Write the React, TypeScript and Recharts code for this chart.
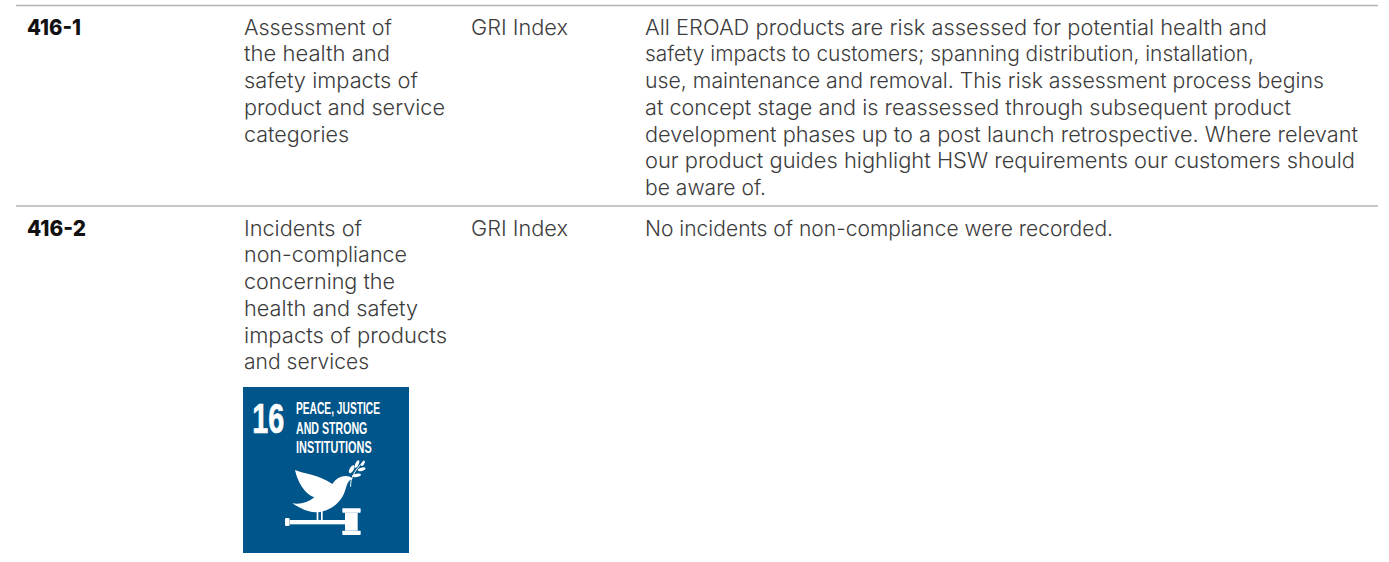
import { ScatterChart, Scatter, XAxis, YAxis, ReferenceLine, ReferenceArea } from "recharts";

const codes = ["416-1", "416-2"];
const codeEnds = [81, 86];
const source = ["GRI Index", "GRI Index"];
const sourceEnd = 568;
const topics = [
  ["Assessment of", "the health and", "safety impacts of", "product and service", "categories"],
  ["Incidents of", "non-compliance", "concerning the", "health and safety", "impacts of products", "and services"],
];
const topicEnds = [
  [392, 390, 418, 445, 349],
  [362, 407, 395, 418, 447, 369],
];
const notes = [
  [
    "All EROAD products are risk assessed for potential health and",
    "safety impacts to customers; spanning distribution, installation,",
    "use, maintenance and removal. This risk assessment process begins",
    "at concept stage and is reassessed through subsequent product",
    "development phases up to a post launch retrospective. Where relevant",
    "our product guides highlight HSW requirements our customers should",
    "be aware of.",
  ],
  ["No incidents of non-compliance were recorded."],
];
const noteEnds = [[1267, 1254, 1324, 1291, 1358, 1355, 766], [1113]];
const badgeTitle = ["PEACE, JUSTICE", "AND STRONG", "INSTITUTIONS"];
const badgeWidths = [252, 214, 227];

const W = 1389;
const H = 562;
const FONT = "Inter, 'Open Sans', sans-serif";
const NARROW = "'Liberation Sans Narrow', 'Liberation Sans'";
const TEXT = "#3c3c3c";
const RULE = "#b4b4b4";
const BLUE = "#00558a";
const rowBase = [34.5, 235.5];
const lineStep = 26.75;
const colX = [27, 244, 471, 645];

type Cell = { x: number; y: number; text: string; len: number; bold?: boolean };

const cells: Cell[] = [];
codes.forEach((text, row) => {
  cells.push({ x: colX[0], y: rowBase[row], text, len: codeEnds[row] - colX[0], bold: true });
  cells.push({ x: colX[2], y: rowBase[row], text: source[row], len: sourceEnd - colX[2] });
  topics[row].forEach((t, i) =>
    cells.push({ x: colX[1], y: rowBase[row] + i * lineStep, text: t, len: topicEnds[row][i] - colX[1] })
  );
  notes[row].forEach((t, i) =>
    cells.push({ x: colX[3], y: rowBase[row] + i * lineStep, text: t, len: noteEnds[row][i] - colX[3] })
  );
});

function CellText(props: any) {
  const { cx, cy, payload } = props;
  return (
    <text
      x={cx}
      y={cy}
      fontFamily={FONT}
      fontSize={21.5}
      fontWeight={payload.bold ? 800 : 300}
      fill={payload.bold ? "#111" : TEXT}
      textLength={payload.len}
      lengthAdjust="spacingAndGlyphs"
    >
      {payload.text}
    </text>
  );
}

// badge art is drawn at 3x inside the square, then scaled down
function Badge(props: any) {
  const { cx, cy } = props;
  return (
    <g transform={`translate(${cx - 8} ${cy - 7}) scale(${1 / 3})`} fill="#fff">
      <text x={52} y={160} fontFamily={NARROW} fontWeight={700} fontSize={126} textLength={96} lengthAdjust="spacingAndGlyphs" stroke="#fff" strokeWidth={2}>
        16
      </text>
      {badgeTitle.map((t, i) => (
        <text key={t} x={183} y={102 + i * 59} fontFamily={NARROW} fontWeight={700} fontSize={49} textLength={badgeWidths[i]} lengthAdjust="spacingAndGlyphs">
          {t}
        </text>
      ))}
      <path d="M180 270 C205 282 250 282 292 312 C305 292 325 284 345 290 L353 296 C338 300 336 315 330 332 C320 365 290 390 255 396 C225 400 200 388 172 370 C195 374 220 368 238 352 C208 342 188 305 180 270 Z" />
      <rect x={245} y={390} width={5} height={32} />
      <rect x={258} y={390} width={5} height={32} />
      <rect x={150} y={414} width={14} height={24} rx={4} />
      <rect x={165} y={420} width={165} height={13} />
      <rect x={330} y={398} width={38} height={54} />
      <rect x={322} y={385} width={55} height={13} rx={2} />
      <rect x={322} y={452} width={55} height={13} rx={2} />
      <path d="M347 320 C345 295 360 270 385 245" fill="none" stroke="#fff" strokeWidth={3} />
      <ellipse cx={350} cy={268} rx={6} ry={13} transform="rotate(30 350 268)" />
      <ellipse cx={366} cy={252} rx={5} ry={12} transform="rotate(25 366 252)" />
      <ellipse cx={380} cy={268} rx={12} ry={5} transform="rotate(-15 380 268)" />
      <ellipse cx={365} cy={286} rx={13} ry={5} transform="rotate(-10 365 286)" />
      <ellipse cx={384} cy={250} rx={4} ry={9} transform="rotate(30 384 250)" />
    </g>
  );
}

export default function App() {
  return (
    <div style={{ position: "absolute", left: 0, top: 0, width: W, height: H, background: "#fff" }}>
      <ScatterChart width={W} height={H} margin={{ top: 0, right: 0, bottom: 0, left: 0 }}>
        <XAxis type="number" dataKey="x" domain={[0, W]} hide />
        <YAxis type="number" dataKey="y" domain={[0, H]} reversed hide />
        <ReferenceLine segment={[{ x: 16, y: 5.5 }, { x: 1378, y: 5.5 }]} stroke={RULE} strokeWidth={1.5} />
        <ReferenceLine segment={[{ x: 16, y: 206 }, { x: 1378, y: 206 }]} stroke={RULE} strokeWidth={1.5} />
        <ReferenceArea x1={243} x2={409} y1={387} y2={553} fill={BLUE} fillOpacity={1} stroke="none" />
        <Scatter data={cells} shape={CellText} isAnimationActive={false} />
        <Scatter data={[{ x: 243, y: 387 }]} shape={Badge} isAnimationActive={false} />
      </ScatterChart>
    </div>
  );
}
